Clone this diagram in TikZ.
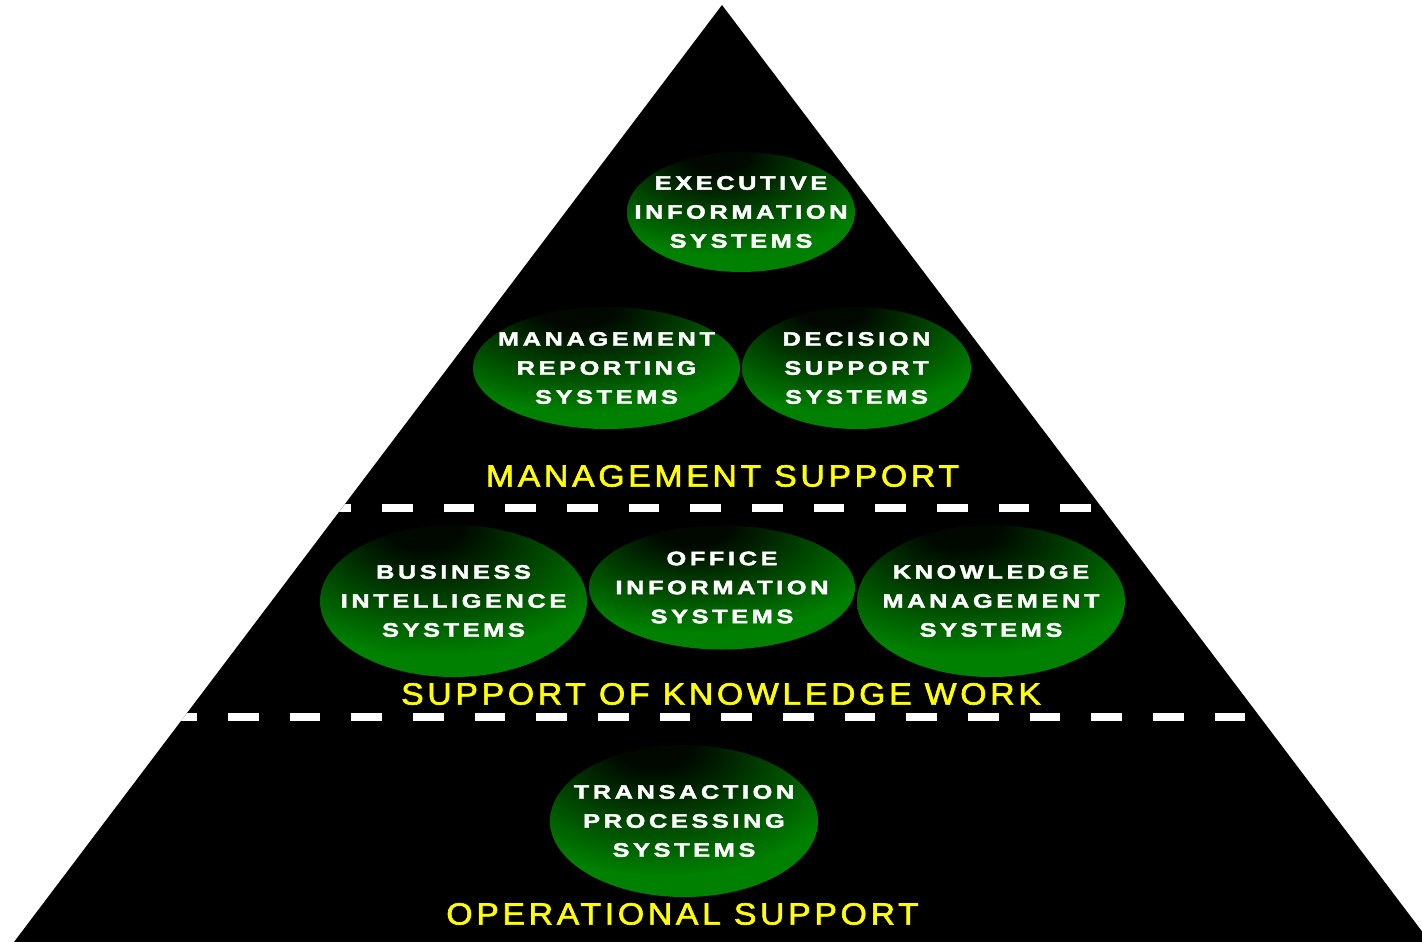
\documentclass[tikz,border=0pt]{standalone}
\usepackage{fontspec}
\usetikzlibrary{shapes.geometric}

\newfontfamily\chipfont[FakeStretch=1.3,LetterSpace=18.5,FakeBold=2.2]{Liberation Sans}
\newfontfamily\bandfont[FakeStretch=1.1,LetterSpace=12,FakeBold=2]{Liberation Sans}

\definecolor{leafgreen}{RGB}{0,128,0}
\definecolor{leafdark}{RGB}{0,8,0}
\definecolor{bandyellow}{RGB}{255,255,0}

% dark core sitting high in each ellipse, fading out to green
\pgfdeclareradialshading{eggshade}{\pgfpoint{-6bp}{26bp}}{%
  color(0bp)=(leafdark); color(7bp)=(leafdark);
  color(35bp)=(leafgreen); color(100bp)=(leafgreen)}

\begin{document}
\begin{tikzpicture}[x=1pt,y=-1pt,
  chip/.style={ellipse, draw=none, inner sep=0pt, shading=eggshade},
  chiptext/.style={text=white, align=center, inner sep=0pt,
    font=\chipfont\bfseries\fontsize{19.5}{29}\selectfont},
  band/.style={text=bandyellow, inner sep=0pt,
    font=\bandfont\fontsize{30.7}{36}\selectfont},
  divider/.style={draw=white, line width=8pt, dash pattern=on 30.5pt off 31.17pt}]

\useasboundingbox (0,0) rectangle (1422,942);

% pyramid
\coordinate (apex) at (722,5);
\coordinate (baseR) at (1430,942);
\coordinate (baseL) at (14,942);
\fill[black] (apex) -- (baseR) -- (baseL) -- cycle;

% dashed tier dividers, kept inside the pyramid
\begin{scope}
  \clip (apex) -- (baseR) -- (baseL) -- cycle;
  \coordinate (upL) at (320.33,508);
  \coordinate (upR) at (1140,508);
  \coordinate (loL) at (166.33,717);
  \coordinate (loR) at (1300,717);
  \draw[divider] (upL) -- (upR);
  \draw[divider] (loL) -- (loR);
\end{scope}

% management tier
\node[chip, minimum width=228pt, minimum height=120pt] (eis) at (741,212) {};
\node[chiptext] (eis-t) at (eis.center) {EXECUTIVE\\INFORMATION\\SYSTEMS};

\node[chip, minimum width=267pt, minimum height=122pt] (mrs) at (606.5,368) {};
\node[chiptext] (mrs-t) at (mrs.center) {MANAGEMENT\\REPORTING\\SYSTEMS};

\node[chip, minimum width=229pt, minimum height=122pt] (dss) at (856.5,368) {};
\node[chiptext] (dss-t) at (dss.center) {DECISION\\SUPPORT\\SYSTEMS};

\node[band] (mgmt) at (722.5,476) {MANAGEMENT SUPPORT};

% knowledge work tier
\node[chip, minimum width=267pt, minimum height=152pt] (bis) at (453.5,601) {};
\node[chiptext] (bis-t) at (bis.center) {BUSINESS\\INTELLIGENCE\\SYSTEMS};

\node[chip, minimum width=266pt, minimum height=124pt] (ois) at (722,587.5) {};
\node[chiptext] (ois-t) at (ois.center) {OFFICE\\INFORMATION\\SYSTEMS};

\node[chip, minimum width=268pt, minimum height=152pt] (kms) at (991,601) {};
\node[chiptext] (kms-t) at (kms.center) {KNOWLEDGE\\MANAGEMENT\\SYSTEMS};

\node[band] (know) at (721,694) {SUPPORT OF KNOWLEDGE WORK};

% operational tier
\node[chip, minimum width=268pt, minimum height=152pt] (tps) at (684,821) {};
\node[chiptext] (tps-t) at (tps.center) {TRANSACTION\\PROCESSING\\SYSTEMS};

\node[band] (oper) at (682.5,914) {OPERATIONAL SUPPORT};

\end{tikzpicture}
\end{document}
